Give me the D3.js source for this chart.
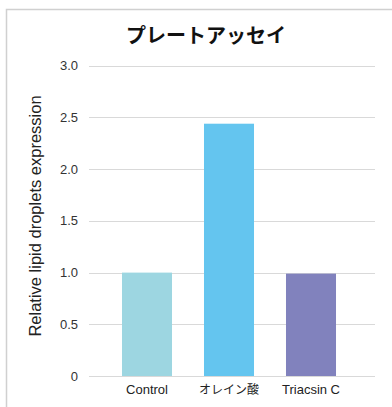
<!DOCTYPE html>
<html>
<head>
<meta charset="utf-8">
<script src="https://cdn.jsdelivr.net/npm/d3@7"></script>
<style>
  html, body { margin: 0; padding: 0; background: #fff; }
  svg { display: block; font-family: Arial, "Liberation Sans", "Noto Sans CJK JP", sans-serif; }
</style>
</head>
<body>
<div id="chart"></div>
<script>
const categories = ['Control', 'オレイン酸', 'Triacsin C'];
const values = [1.0, 2.44, 0.99];
const barColors = ['#9dd6e1', '#64c5ef', '#8182bd'];
const yTicks = [0, 0.5, 1.0, 1.5, 2.0, 2.5, 3.0];

const width = 392, height = 407;
const svg = d3.select('#chart').append('svg')
  .attr('width', width).attr('height', height);

// outer frame (clipped on right and bottom)
svg.append('rect')
  .attr('x', 6.5).attr('y', 9.5)
  .attr('width', 400).attr('height', 420)
  .attr('fill', '#fff').attr('stroke', '#d0d0d0').attr('stroke-width', 1.5);

const plotLeft = 89, plotRight = 375;
const y = d3.scaleLinear().domain([0, 3]).range([376, 65.8]);
const x = d3.scaleBand().domain(categories).range([106, 352]).paddingInner(0.39).paddingOuter(0.195);

svg.append('text')
  .attr('x', 206).attr('y', 43)
  .attr('text-anchor', 'middle')
  .attr('font-size', 20).attr('font-weight', 'bold').attr('fill', '#111')
  .attr('font-family', '"Noto Sans CJK JP", sans-serif')
  .text('プレートアッセイ');

// gridlines
svg.append('g').selectAll('line')
  .data(yTicks).join('line')
  .attr('x1', plotLeft).attr('x2', plotRight)
  .attr('y1', d => Math.round(y(d)) + 0.5).attr('y2', d => Math.round(y(d)) + 0.5)
  .attr('stroke', '#d9d9d9').attr('stroke-width', 1);

// y tick labels
svg.append('g').selectAll('text')
  .data(yTicks).join('text')
  .attr('x', 78).attr('y', d => y(d))
  .attr('dy', '0.35em').attr('text-anchor', 'end')
  .attr('font-size', 13).attr('fill', '#333')
  .text(d => d === 0 ? '0' : d3.format('.1f')(d));

// bars
svg.append('g').selectAll('rect')
  .data(values).join('rect')
  .attr('x', (d, i) => x(categories[i]))
  .attr('width', x.bandwidth())
  .attr('y', d => y(d))
  .attr('height', d => y(0) - y(d))
  .attr('fill', (d, i) => barColors[i]);

// baseline
svg.append('line')
  .attr('x1', plotLeft).attr('x2', plotRight)
  .attr('y1', Math.round(y(0)) + 0.5).attr('y2', Math.round(y(0)) + 0.5)
  .attr('stroke', '#d9d9d9');

// x labels
svg.append('g').selectAll('text')
  .data(categories).join('text')
  .attr('x', d => x(d) + x.bandwidth() / 2)
  .attr('y', 394)
  .attr('text-anchor', 'middle')
  .attr('font-size', d => /^[A-Za-z ]+$/.test(d) ? 13 : 12).attr('fill', '#222')
  .text(d => d);

// y axis title
svg.append('text')
  .attr('transform', 'translate(41,216) rotate(-90)')
  .attr('text-anchor', 'middle')
  .attr('font-size', 16.5).attr('fill', '#222')
  .text('Relative lipid droplets expression');
</script>
</body>
</html>
